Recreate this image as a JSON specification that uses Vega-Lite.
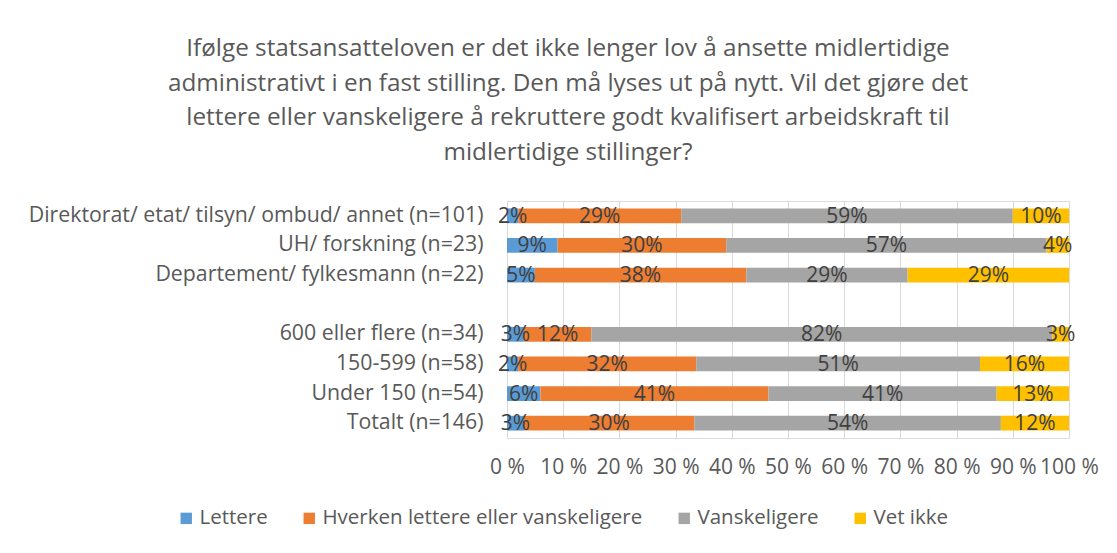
{
  "$schema": "https://vega.github.io/schema/vega-lite/v6.json",
  "width": 562,
  "height": 237,
  "autosize": "none",
  "padding": {"left": 507, "top": 201, "right": 48, "bottom": 115},
  "background": "white",
  "title": {
    "text": [
      "Ifølge statsansatteloven er det ikke lenger lov å ansette midlertidige",
      "administrativt i en fast stilling. Den må lyses ut på nytt. Vil det gjøre det",
      "lettere eller vanskeligere å rekruttere godt kvalifisert arbeidskraft til",
      "midlertidige stillinger?"
    ],
    "anchor": "middle",
    "frame": "group",
    "dx": -220,
    "offset": 36,
    "font": "Open Sans",
    "fontSize": 24.3,
    "fontWeight": "normal",
    "color": "#595959",
    "lineHeight": 34.5
  },
  "data": {
    "values": [
      {"gruppe": "Direktorat/ etat/ tilsyn/ ombud/ annet (n=101)", "svar": "Lettere", "verdi": 2},
      {"gruppe": "Direktorat/ etat/ tilsyn/ ombud/ annet (n=101)", "svar": "Hverken lettere eller vanskeligere", "verdi": 29},
      {"gruppe": "Direktorat/ etat/ tilsyn/ ombud/ annet (n=101)", "svar": "Vanskeligere", "verdi": 59},
      {"gruppe": "Direktorat/ etat/ tilsyn/ ombud/ annet (n=101)", "svar": "Vet ikke", "verdi": 10},
      {"gruppe": "UH/ forskning (n=23)", "svar": "Lettere", "verdi": 9},
      {"gruppe": "UH/ forskning (n=23)", "svar": "Hverken lettere eller vanskeligere", "verdi": 30},
      {"gruppe": "UH/ forskning (n=23)", "svar": "Vanskeligere", "verdi": 57},
      {"gruppe": "UH/ forskning (n=23)", "svar": "Vet ikke", "verdi": 4},
      {"gruppe": "Departement/ fylkesmann (n=22)", "svar": "Lettere", "verdi": 5},
      {"gruppe": "Departement/ fylkesmann (n=22)", "svar": "Hverken lettere eller vanskeligere", "verdi": 38},
      {"gruppe": "Departement/ fylkesmann (n=22)", "svar": "Vanskeligere", "verdi": 29},
      {"gruppe": "Departement/ fylkesmann (n=22)", "svar": "Vet ikke", "verdi": 29},
      {"gruppe": "600 eller flere (n=34)", "svar": "Lettere", "verdi": 3},
      {"gruppe": "600 eller flere (n=34)", "svar": "Hverken lettere eller vanskeligere", "verdi": 12},
      {"gruppe": "600 eller flere (n=34)", "svar": "Vanskeligere", "verdi": 82},
      {"gruppe": "600 eller flere (n=34)", "svar": "Vet ikke", "verdi": 3},
      {"gruppe": "150-599 (n=58)", "svar": "Lettere", "verdi": 2},
      {"gruppe": "150-599 (n=58)", "svar": "Hverken lettere eller vanskeligere", "verdi": 32},
      {"gruppe": "150-599 (n=58)", "svar": "Vanskeligere", "verdi": 51},
      {"gruppe": "150-599 (n=58)", "svar": "Vet ikke", "verdi": 16},
      {"gruppe": "Under 150 (n=54)", "svar": "Lettere", "verdi": 6},
      {"gruppe": "Under 150 (n=54)", "svar": "Hverken lettere eller vanskeligere", "verdi": 41},
      {"gruppe": "Under 150 (n=54)", "svar": "Vanskeligere", "verdi": 41},
      {"gruppe": "Under 150 (n=54)", "svar": "Vet ikke", "verdi": 13},
      {"gruppe": "Totalt (n=146)", "svar": "Lettere", "verdi": 3},
      {"gruppe": "Totalt (n=146)", "svar": "Hverken lettere eller vanskeligere", "verdi": 30},
      {"gruppe": "Totalt (n=146)", "svar": "Vanskeligere", "verdi": 54},
      {"gruppe": "Totalt (n=146)", "svar": "Vet ikke", "verdi": 12}
    ]
  },
  "transform": [
    {"calculate": "indexof(['Lettere','Hverken lettere eller vanskeligere','Vanskeligere','Vet ikke'], datum.svar)", "as": "rekkefolge"},
    {"stack": "verdi", "groupby": ["gruppe"], "offset": "normalize", "sort": [{"field": "rekkefolge", "order": "ascending"}], "as": ["x0", "x1"]},
    {"calculate": "(datum.x0 + datum.x1) / 2", "as": "xmid"},
    {"calculate": "datum.verdi + '%'", "as": "etikett"}
  ],
  "encoding": {
    "y": {
      "field": "gruppe",
      "type": "nominal",
      "title": null,
      "scale": {
        "domain": [
          "Direktorat/ etat/ tilsyn/ ombud/ annet (n=101)",
          "UH/ forskning (n=23)",
          "Departement/ fylkesmann (n=22)",
          " ",
          "600 eller flere (n=34)",
          "150-599 (n=58)",
          "Under 150 (n=54)",
          "Totalt (n=146)"
        ],
        "paddingInner": 0.5,
        "paddingOuter": 0.25
      },
      "axis": {
        "domain": false,
        "ticks": false,
        "labelPadding": 24,
        "labelFont": "Open Sans",
        "labelFontSize": 21.3,
        "labelColor": "#595959",
        "labelLimit": 600
      }
    }
  },
  "layer": [
    {
      "mark": {"type": "bar"},
      "encoding": {
        "x": {
          "field": "x0",
          "type": "quantitative",
          "scale": {"domain": [0, 1], "nice": false},
          "title": null,
          "axis": {
            "values": [0, 0.1, 0.2, 0.3, 0.4, 0.5, 0.6, 0.7, 0.8, 0.9, 1],
            "labelExpr": "round(datum.value * 100) + ' %'",
            "domain": false,
            "ticks": false,
            "grid": true,
            "gridColor": "#D9D9D9",
            "gridWidth": 1,
            "labelPadding": 18,
            "labelFont": "Open Sans",
            "labelFontSize": 21,
            "labelColor": "#595959",
            "labelFlush": false,
            "labelOverlap": false
          }
        },
        "x2": {"field": "x1"},
        "color": {
          "field": "svar",
          "type": "nominal",
          "scale": {
            "domain": ["Lettere", "Hverken lettere eller vanskeligere", "Vanskeligere", "Vet ikke"],
            "range": ["#5B9BD5", "#ED7D31", "#A5A5A5", "#FFC000"]
          },
          "legend": {
            "title": null,
            "orient": "none",
            "direction": "horizontal",
            "legendX": -331,
            "legendY": 307,
            "symbolType": "square",
            "symbolSize": 130,
            "symbolStrokeWidth": 0,
            "labelFont": "Open Sans",
            "labelFontSize": 20.5,
            "labelColor": "#595959",
            "labelOffset": 3,
            "columnPadding": 31,
            "labelLimit": 500
          }
        }
      }
    },
    {
      "mark": {"type": "text", "font": "Open Sans", "fontSize": 21, "color": "#404040", "align": "center", "baseline": "middle", "dy": 1},
      "encoding": {
        "x": {"field": "xmid", "type": "quantitative"},
        "text": {"field": "etikett", "type": "nominal"},
        "detail": {"field": "svar"}
      }
    }
  ]
}
